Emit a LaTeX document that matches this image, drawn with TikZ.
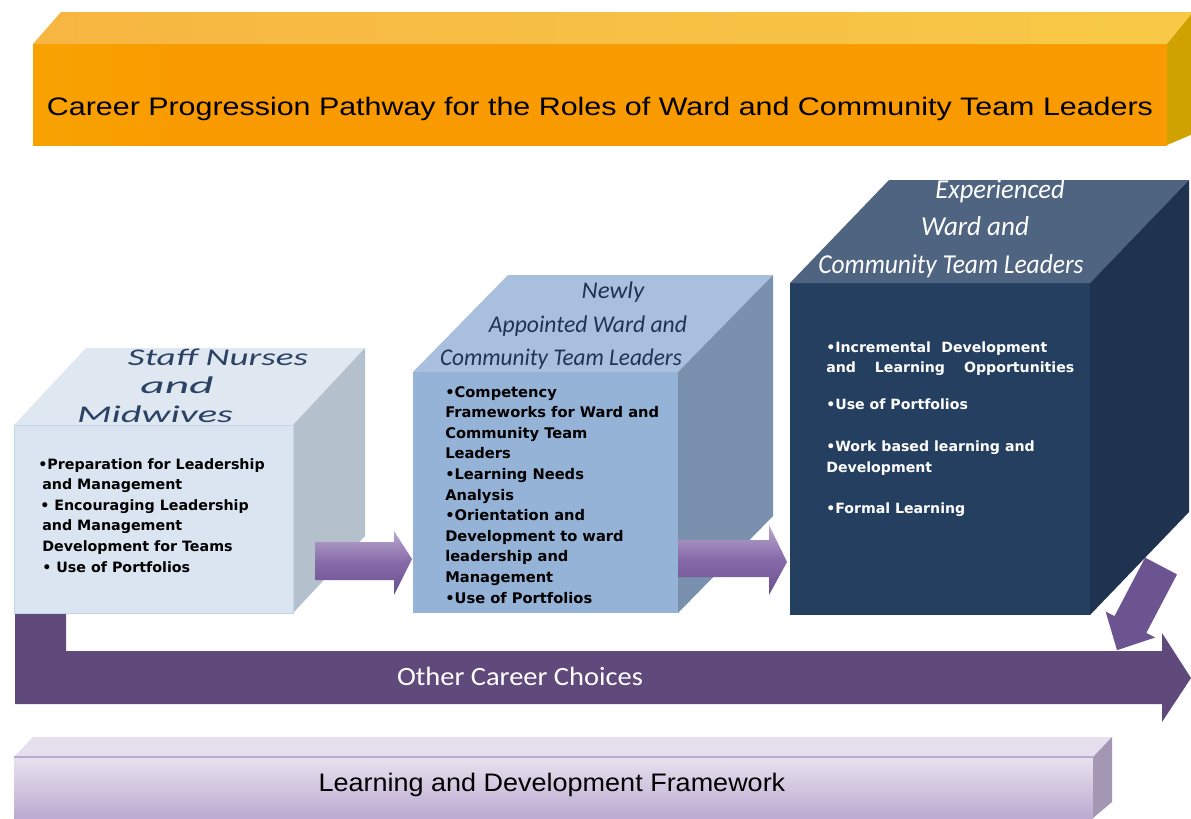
\documentclass[tikz,border=0pt]{standalone}
\usepackage{fontspec}
\usepackage{graphicx}
\setmainfont{Liberation Sans}
\newfontfamily\carl{Carlito}
\newfontfamily\djv{DejaVu Sans}

\definecolor{banY}{HTML}{F3C30C}
\definecolor{banO}{HTML}{F99A00}
\definecolor{banO2}{HTML}{F7A20E}
\definecolor{banTL}{HTML}{F7AC3E}
\definecolor{banTR}{HTML}{F8D34A}
\definecolor{banSide}{HTML}{CFA200}
\definecolor{bA}{HTML}{DBE5F1}
\definecolor{bAe}{HTML}{C4D4E8}
\definecolor{bAt}{HTML}{DFE7F1}
\definecolor{bAs}{HTML}{B5C0CD}
\definecolor{bAtx}{HTML}{2B4264}
\definecolor{bB}{HTML}{95B3D7}
\definecolor{bBt}{HTML}{A8C0DE}
\definecolor{bBs}{HTML}{7991AF}
\definecolor{bBtx}{HTML}{1E3452}
\definecolor{bC}{HTML}{243F60}
\definecolor{bCt}{HTML}{4F6481}
\definecolor{bCs}{HTML}{1F3350}
\definecolor{pur}{HTML}{604A7B}
\definecolor{purS}{HTML}{6B5490}
\definecolor{arT}{HTML}{B8A8CE}
\definecolor{arM}{HTML}{8669A8}
\definecolor{arB}{HTML}{6A4F8E}
\definecolor{lavL}{HTML}{E8E2EF}
\definecolor{lavD}{HTML}{BCAAD0}
\definecolor{lavT}{HTML}{E6E0EE}
\definecolor{lavS}{HTML}{A497B3}
\definecolor{lavE}{HTML}{BBAACF}

\pgfdeclarehorizontalshading{banfront}{100bp}{color(0bp)=(banY); color(12bp)=(banY!60!banO); color(32bp)=(banO); color(80bp)=(banO); color(100bp)=(banO2)}
\pgfdeclarehorizontalshading{bantop}{100bp}{color(0bp)=(banTL); color(100bp)=(banTR)}

\begin{document}
\begin{tikzpicture}[x=0.75pt,y=-0.75pt,
  facebox/.style={inner sep=0pt, outer sep=0pt, anchor=north west, draw=none},
  ttl/.style={anchor=base, inner sep=0pt},
  body/.style={anchor=base west, inner sep=0pt},
  blockarrow/.style={draw=none, top color=arT, bottom color=arB, middle color=arM}]
\useasboundingbox (0,0) rectangle (1191,818);
\fill[white] (0,0) rectangle (1191,818);

% ---------- top banner ----------
\node[facebox, minimum width=850.5pt, minimum height=75.75pt, shade, shading=banfront] (ban) at (33,44) {};
\path[shade, shading=bantop] (ban.north west) -- ++(28,-32) -- ++(1132,0) -- (ban.north east) -- cycle;
\fill[banSide] (ban.north east) -- ++(26,-32) -- ++(0,122) -- (ban.south east) -- cycle;
\node[ttl] (title) at (600,115) {\resizebox{829.5pt}{\height}{\fontsize{19}{22}\selectfont Career Progression Pathway for the Roles of Ward and Community Team Leaders}};

% ---------- arrow from experienced box down ----------
\fill[purS] (1145.1,557.6) -- (1177,574.4) -- (1146.3,632.9) -- (1155.2,637.5) -- (1117,650.2) -- (1105.6,611.5) -- (1114.5,616.1) -- cycle;

% ---------- other career choices arrow ----------
\fill[pur] (15,613) -- (66,613) -- (66,651) -- (1162,651) -- (1162,633) -- (1191,678) -- (1162,722) -- (1162,704) -- (15,704) -- cycle;
\node[ttl, text=white] (occ) at (520,685) {\resizebox{184.5pt}{\height}{\carl\fontsize{19.8}{22}\selectfont Other Career Choices}};

% ---------- box 1 ----------
\node[facebox, fill=bA, minimum width=209.25pt, minimum height=141pt] (b1) at (14,425) {};
\fill[bAt] (b1.north west) -- ++(72,-77) -- ++(279,0) -- (b1.north east) -- cycle;
\fill[bAs] (b1.north east) -- ++(72,-77) -- ++(0,188) -- (b1.south east) -- cycle;
\draw[bAe, line width=0.6pt] (b1.north west) rectangle (b1.south east);
\node[ttl, text=bAtx] (t1a) at (218,365) {\resizebox{135pt}{\height}{\carl\itshape\fontsize{18}{20}\selectfont Staff Nurses}};
\node[ttl, text=bAtx] (t1b) at (177,393) {\resizebox{55pt}{\height}{\carl\itshape\fontsize{18}{20}\selectfont and}};
\node[ttl, text=bAtx] (t1c) at (155,422) {\resizebox{117pt}{\height}{\carl\itshape\fontsize{18}{20}\selectfont Midwives}};
\node[body, font=\djv\bfseries\fontsize{10.7}{15.45}\selectfont] (x1) at (38,469) {\begin{tabular}[t]{@{}l@{}}
•Preparation for Leadership\\
\hspace{3pt}and Management\\
\hspace{1.5pt}• Encouraging Leadership\\
\hspace{3pt}and Management\\
\hspace{3pt}Development for Teams\\
\hspace{3pt}• Use of Portfolios
\end{tabular}};

% ---------- box 2 ----------
\node[facebox, fill=bB, minimum width=198.75pt, minimum height=180.75pt] (b2) at (413,372) {};
\fill[bBt] (b2.north west) -- ++(95,-97) -- ++(265,0) -- (b2.north east) -- cycle;
\fill[bBs] (b2.north east) -- ++(95,-97) -- ++(0,241) -- (b2.south east) -- cycle;
\node[ttl, text=bBtx] (t2a) at (613,298) {\resizebox{47pt}{\height}{\carl\itshape\fontsize{18}{20}\selectfont Newly}};
\node[ttl, text=bBtx] (t2b) at (588,332) {\resizebox{148.5pt}{\height}{\carl\itshape\fontsize{18}{20}\selectfont Appointed Ward and}};
\node[ttl, text=bBtx] (t2c) at (561,365) {\resizebox{181.5pt}{\height}{\carl\itshape\fontsize{18}{20}\selectfont Community Team Leaders}};
\node[body, font=\djv\bfseries\fontsize{11}{15.45}\selectfont] (x2) at (445,397) {\begin{tabular}[t]{@{}l@{}}
•Competency\\
Frameworks for Ward and\\
Community Team\\
Leaders\\
•Learning Needs\\
Analysis\\
•Orientation and\\
Development to ward\\
leadership and\\
Management\\
•Use of Portfolios
\end{tabular}};

% ---------- box 3 ----------
\node[facebox, fill=bC, minimum width=225pt, minimum height=249pt] (b3) at (790,283) {};
\fill[bCt] (b3.north west) -- ++(99,-103) -- ++(300,0) -- (b3.north east) -- cycle;
\fill[bCs] (b3.north east) -- ++(99,-103) -- ++(0,332) -- (b3.south east) -- cycle;
\node[ttl, text=white] (t3a) at (1000,198) {\resizebox{97pt}{\height}{\carl\itshape\fontsize{20.5}{22}\selectfont Experienced}};
\node[ttl, text=white] (t3b) at (975,235) {\resizebox{81pt}{\height}{\carl\itshape\fontsize{20.5}{22}\selectfont Ward and}};
\node[ttl, text=white] (t3c) at (951,273) {\resizebox{199pt}{\height}{\carl\itshape\fontsize{20.5}{22}\selectfont Community Team Leaders}};
\node[body, text=white, font=\djv\bfseries\fontsize{10.6}{15.4}\selectfont] (x3) at (826,352) {\begin{tabular}[t]{@{}l@{}}
\makebox[165.75pt][s]{•Incremental Development}\\
\makebox[186pt][s]{and Learning Opportunities}\\[12.4pt]
•Use of Portfolios\\[16.1pt]
•Work based learning and\\
Development\\[15.4pt]
•Formal Learning
\end{tabular}};

% ---------- arrows between boxes ----------
\path[blockarrow] (315,542) -- (394,542) -- (394,531) -- (412,559) -- (394,595) -- (394,580) -- (315,580) -- cycle;
\path[blockarrow] (678,540) -- (769,540) -- (769,525) -- (787,562) -- (769,595) -- (769,577) -- (678,577) -- cycle;

% ---------- learning and development framework bar ----------
\node[facebox, minimum width=809.25pt, minimum height=45.75pt, top color=lavL, bottom color=lavD] (ldf) at (14,757) {};
\fill[lavT] (ldf.north west) -- ++(19,-20) -- ++(1079,0) -- (ldf.north east) -- cycle;
\fill[lavS] (ldf.north east) -- ++(19,-20) -- ++(0,65) -- (ldf.south east) -- cycle;
\draw[lavE, line width=0.8pt] (ldf.north west) -- (ldf.north east);
\node[ttl] (ldft) at (552,791) {\resizebox{350pt}{\height}{\fontsize{19}{22}\selectfont Learning and Development Framework}};
\end{tikzpicture}
\end{document}
